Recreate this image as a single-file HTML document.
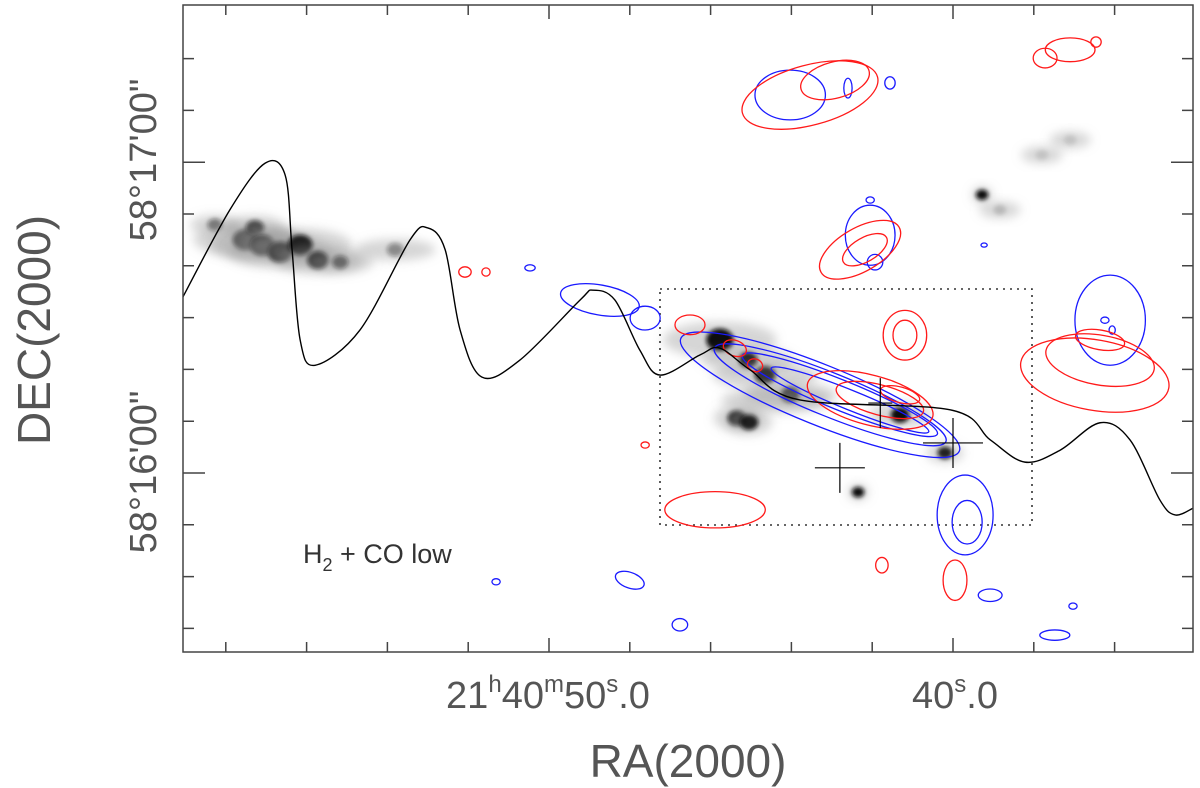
<!DOCTYPE html>
<html><head><meta charset="utf-8"><style>
html,body{margin:0;padding:0;background:#fff}
svg{display:block;font-family:"Liberation Sans",sans-serif}
</style></head><body>
<svg id="chart" width="1200" height="788" viewBox="0 0 1200 788">
<defs>
<filter id="blur" x="-50%" y="-50%" width="200%" height="200%"><feGaussianBlur stdDeviation="5"/></filter>
<filter id="blur2" x="-50%" y="-50%" width="200%" height="200%"><feGaussianBlur stdDeviation="2"/></filter>
<clipPath id="clip"><rect x="183" y="5" width="1010" height="647"/></clipPath>
</defs>
<rect x="0" y="0" width="1200" height="788" fill="#fff"/>
<g id="img" clip-path="url(#clip)"></g>
<g id="marks" clip-path="url(#clip)"></g>
<rect x="183" y="5" width="1010" height="647" fill="none" stroke="#444" stroke-width="1.5"/>
<g id="ticks"></g>
<text x="0" y="0" transform="translate(156,160) rotate(-90)" font-size="38" text-anchor="middle" fill="#555">58°17'00"</text>
<text x="0" y="0" transform="translate(156,472) rotate(-90)" font-size="38" text-anchor="middle" fill="#555">58°16'00"</text>
<text x="0" y="0" transform="translate(50,330) rotate(-90)" font-size="46" text-anchor="middle" fill="#555">DEC(2000)</text>
<text x="548" y="708" font-size="38" text-anchor="middle" fill="#555">21<tspan font-size="24" dy="-16">h</tspan><tspan dy="16">40</tspan><tspan font-size="24" dy="-16">m</tspan><tspan dy="16">50</tspan><tspan font-size="24" dy="-16">s</tspan><tspan dy="16">.0</tspan></text>
<text x="955" y="708" font-size="38" text-anchor="middle" fill="#555">40<tspan font-size="24" dy="-16">s</tspan><tspan dy="16">.0</tspan></text>
<text x="688" y="777" font-size="46" text-anchor="middle" fill="#555">RA(2000)</text>
<text x="303" y="563" font-size="27" fill="#333">H<tspan font-size="18" dy="8">2</tspan><tspan dy="-8"> + CO low</tspan></text>
</svg>
<script>
// axis functions: RA seconds (21h40m + s), Dec arcsec offset from 58°16'00"
const xTicksRA = [58,56,54,52,50,48,46,44,42,40,38,36];
const yTicksDec = [80,70,60,50,40,30,20,10,0,-10,-20,-30];
// jet model curve
const curveRA  = [59.06,57.90,57.03,56.53,56.36,56.16,55.79,54.68,53.44,53.00,52.57,52.20,51.66,50.72,49.23,48.91,48.37,47.75,47.25,46.26,45.77,45.02,43.79,40.07,39.08,38.22,37.35,36.36,35.62,34.88,34.50,34.06];
const curveDec = [34.0,50.8,59.8,57.5,43.1,25.7,20.8,27.6,45.0,47.3,43.1,27.6,18.5,21.8,33.4,35.3,33.4,23.7,18.9,22.8,24.1,19.9,14.1,12.2,6.4,2.1,4.4,9.7,6.4,-5.2,-8.1,-6.8];
// red contours: ra, dec, rx(arcsec), ry(arcsec), rotation
const redRA  = [43.54,42.92,37.72,37.10,36.46,42.30,42.18,41.19,41.19,36.49,36.36,36.36,42.05,41.81,41.31,46.51,45.40,44.90,45.89,41.76,39.95,52.08,51.56,47.62];
const redDec = [72.97,75.87,80.1,81.7,83.2,43.1,43.1,26.6,26.6,18.9,21.8,25.7,14.1,14.1,15.1,28.6,24.1,20.8,-7.1,-17.8,-20.7,38.8,38.8,5.4];
const redRX  = [13.5,6.8,2.3,4.8,1.0,8.7,4.8,4.2,2.3,14.5,10.6,4.8,12.5,8.7,3.9,2.9,2.3,1.5,9.7,1.2,2.3,1.2,0.8,0.8];
const redRY  = [5.8,3.5,1.9,2.3,1.0,4.2,2.3,4.8,2.9,6.8,4.8,1.9,4.8,2.9,1.5,1.9,1.5,1.2,3.5,1.5,3.9,1.0,0.8,0.6];
const redRot = [-15,-15,0,0,0,-30,-30,0,0,10,10,10,15,15,15,0,20,20,0,0,0,0,0,0];
// blue contours
const blueRA  = [44.03,42.60,41.56,42.05,41.93,42.05,36.11,36.24,36.06,43.29,43.04,42.80,42.55,48.74,47.62,39.70,39.65,48.00,46.76,39.08,37.48,50.47,51.31,39.23,37.03];
const blueDec = [72.97,74.3,75.3,45.9,40.7,52.7,29.5,29.5,27.6,15.1,15.1,15.1,14.1,33.4,29.9,-8.1,-9.5,-20.7,-29.3,-23.6,-31.3,39.6,-21.0,44.0,-25.7];
const blueRX  = [6.8,0.8,1.0,4.8,1.5,0.8,6.8,0.8,0.6,29,24.1,20.3,16.4,7.7,2.9,5.4,2.9,2.9,1.5,2.3,2.9,1.0,0.8,0.6,0.8];
const blueRY  = [4.8,1.9,1.2,5.8,1.5,0.6,8.7,0.6,0.8,5.8,4.2,2.9,1.9,2.9,2.3,7.7,4.2,1.5,1.2,1.2,1.0,0.6,0.6,0.4,0.6];
const blueRot = [0,0,0,0,0,0,0,0,0,22,22,22,22,10,0,0,0,20,0,0,0,0,0,0,0];
// greyscale emission knots
const knotRA  = [58.27,57.52,57.28,57.10,56.66,56.16,55.72,55.17,53.81,45.77,45.07,44.65,44.03,45.35,45.05,41.31,40.20,42.35,39.28,38.84,37.10,37.80,44.4];
const knotDec = [47.9,45.0,47.3,44.0,42.7,44.0,41.1,40.7,43.1,25.7,21.8,18.9,15.1,10.6,9.8,11.2,3.9,-3.7,53.7,50.8,64.3,61.4,14.0];
const knotR   = [1.2,2.0,1.5,2.0,2.0,2.0,1.7,1.3,1.3,2.2,1.5,1.7,1.5,1.5,1.5,1.5,1.2,1.0,1.0,1.0,1.0,1.0,1.5];
const knotDiffuse = [4,5,4,5,5,5,5,5,6,5,6,6,6,3,3,4,3,2,2,4,4,4,7];
const knotDark = [0.5,0.9,0.7,0.9,0.9,0.9,0.8,0.5,0.4,1,0.9,0.8,0.8,0.9,0.9,1,0.9,1,1,0.15,0.1,0.1,0];

const xPx = ra => 549 - (ra - 50) * 40.4;
const yPx = dec => 473 - dec * 5.18;
const sPx = a => a * 5.18;
const NS = 'http://www.w3.org/2000/svg';
const img = document.getElementById('img');
const marks = document.getElementById('marks');
const ticks = document.getElementById('ticks');
function mk(tag, attrs, parent){const e=document.createElementNS(NS,tag);for(const k in attrs)e.setAttribute(k,attrs[k]);parent.appendChild(e);return e;}

// greyscale image
knotRA.forEach((ra,i)=>{
  const d = mk('ellipse',{cx:xPx(ra),cy:yPx(knotDec[i]),rx:sPx(knotR[i])*knotDiffuse[i],ry:sPx(knotR[i])*1.6,fill:'#999','fill-opacity':0.4,filter:'url(#blur)'},img);
  
  
  const k = mk('ellipse',{cx:xPx(ra),cy:yPx(knotDec[i]),rx:sPx(knotR[i])*1.2,ry:sPx(knotR[i]),fill:'#111','fill-opacity':knotDark[i],filter:'url(#blur2)'},img);
  
  
});

// dotted box
const box = mk('rect',{x:660,y:289,width:372,height:236,fill:'none',stroke:'#333','stroke-width':1.6,'stroke-dasharray':'2 5'},marks);



function contours(ras,decs,rxs,rys,rots,color,name){
  ras.forEach((ra,i)=>{
    const cx=xPx(ra), cy=yPx(decs[i]);
    const e = mk('ellipse',{cx:cx,cy:cy,rx:sPx(rxs[i]),ry:sPx(rys[i]),fill:'none',stroke:color,'stroke-width':1.3,transform:`rotate(${rots[i]} ${cx} ${cy})`},marks);
    
    
  });
}
contours(blueRA,blueDec,blueRX,blueRY,blueRot,'#1a1aff','blue-contour');
contours(redRA,redDec,redRX,redRY,redRot,'#ff1a1a','red-contour');

// jet curve
const pts = curveRA.map((ra,i)=>[xPx(ra),yPx(curveDec[i])]);
let d = 'M'+pts[0][0]+','+pts[0][1];
for(let i=0;i<pts.length-1;i++){
  const p0=pts[Math.max(0,i-1)],p1=pts[i],p2=pts[i+1],p3=pts[Math.min(pts.length-1,i+2)];
  const c1=[p1[0]+(p2[0]-p0[0])/6,p1[1]+(p2[1]-p0[1])/6];
  const c2=[p2[0]-(p3[0]-p1[0])/6,p2[1]-(p3[1]-p1[1])/6];
  d+=` C${c1[0]},${c1[1]} ${c2[0]},${c2[1]} ${p2[0]},${p2[1]}`;
}
const curve = mk('path',{d:d,fill:'none',stroke:'#000','stroke-width':1.4},marks);



// source crosses
const crossRA=[42.8,41.8,40.0], crossDec=[1.0,13.5,5.8], crossH=[25,12,30], crossV=[25,25,25];
crossRA.forEach((ra,i)=>{
  const x=xPx(ra),y=yPx(crossDec[i]);
  const c = mk('path',{d:`M${x-crossH[i]},${y}H${x+crossH[i]}M${x},${y-crossV[i]}V${y+crossV[i]}`,stroke:'#000','stroke-width':1.2},marks);
  
  
});

// ticks
xTicksRA.forEach(ra=>{
  const x=xPx(ra); const major = (ra===50||ra===40); const L= major?14:10;
  const t1 = mk('path',{d:`M${x},5v${L}M${x},652v-${L}`,stroke:'#444','stroke-width':1.5},ticks);
  
  
});
yTicksDec.forEach(dec=>{
  const y=yPx(dec); const major=(dec===60||dec===0); const L=major?22:11;
  const t2 = mk('path',{d:`M183,${y}h${L}M1193,${y}h-${L}`,stroke:'#444','stroke-width':1.5},ticks);
  
  
});
</script>
</body></html>
